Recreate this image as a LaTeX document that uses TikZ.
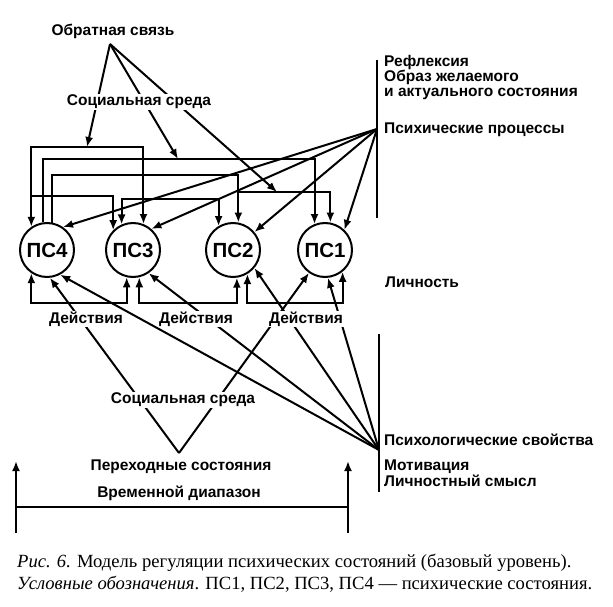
\documentclass[tikz,border=0pt]{standalone}
\usepackage{fontspec}
\setmainfont{Liberation Serif}
\newfontfamily\lab{Liberation Sans}
\usetikzlibrary{arrows.meta,calc}
\begin{document}
\begin{tikzpicture}[x=1pt,y=-1pt,
  lnw/.style={line width=2pt},
  ar/.style={lnw,-{Latex[length=10pt,width=8pt]}},
  ar2/.style={lnw,{Latex[length=10pt,width=8pt]}-{Latex[length=10pt,width=8pt]}},
  thinln/.style={line width=1.4pt},
  psnode/.style={circle,draw,line width=2pt,minimum size=54pt,inner sep=0pt,font=\lab\bfseries\fontsize{20.5}{22}\selectfont},
  lbl/.style={font=\lab\bfseries\fontsize{15.5}{15.5}\selectfont,inner sep=1pt,fill=white},
  captxt/.style={font=\fontsize{18.6}{20}\selectfont,inner sep=0pt,anchor=west},
  ]
\useasboundingbox (0,0) rectangle (613,607);

% circles
\node[psnode] (c4) at (47,250) {ПС4};
\node[psnode] (c3) at (133,250) {ПС3};
\node[psnode] (c2) at (233,250) {ПС2};
\node[psnode] (c1) at (325,250) {ПС1};

% top frames
\draw[ar2] (c4.124) |- (90,147) -| (c3.68);
\draw[ar] (c4.98) |- (200,159) -| (c1.112);
\draw[ar] (c4.79) |- (150,175) -| (c2.79);
\draw[ar] (c4.124 |- 0,196) -| (c3.135);
\draw[ar2] (c3.114) |- (170,199) -| (c2.121);
\draw[ar] (c2.79 |- 0,192) -| (c1.79);

% feedback
\coordinate (O) at (110,44);
\coordinate (fa) at (87,147);
\coordinate (fb) at (178,159);
\coordinate (fe) at (277,192);
\draw[ar] (O) -- (fa);
\draw[ar] (O) -- (fb);
\draw[ar] (O) -- (fe);

% psychic processes
\draw[thinln] (377,60) -- (377,218);
\coordinate (H1) at (377,129);
\draw[ar] (H1) -- (c4.55);
\draw[ar] (H1) -- (c3.49);
\draw[ar] (H1) -- (c2.40);
\draw[ar] (H1) -- (c1.46);

% bottom brackets (actions)
\draw[ar2] (c4.236) |- (80,303) -| (c3.257);
\draw[ar2] (c3.283) |- (190,303) -| (c2.278);
\draw[ar2] (c2.301) |- (290,303) -| (c1.309);

% transitional states V
\coordinate (V) at (179,453);
\draw[ar] (V) -- (c4.276);
\draw[ar] (V) -- (c1.235);

% psychological properties
\draw[thinln] (379,334) -- (379,492);
\coordinate (H2) at (379,450);
\draw[ar] (H2) -- (c4.298);
\draw[ar] (H2) -- (c3.304);
\draw[ar] (H2) -- (c2.320);
\draw[ar] (H2) -- (c1.276);

% time range
\draw[ar] (16,533) -- (16,461);
\draw[ar] (348,533) -- (348,461);
\draw[thinln] (16,507) -- (348,507);

% labels
\node[lbl] (tob) at (113,31) {Обратная связь};
\node[lbl] (tss1) at (139,102) {Социальная среда};
\node[lbl,anchor=west,align=left,font=\lab\bfseries\fontsize{15.5}{15}\selectfont] (trf) at (383,77) {Рефлексия\\Образ желаемого\\и актуального состояния};
\node[lbl,anchor=west] (tpp) at (383,130) {Психические процессы};
\node[lbl] (td1) at (86,319) {Действия};
\node[lbl] (td2) at (196,319) {Действия};
\node[lbl] (td3) at (306,319) {Действия};
\node[lbl,anchor=west] (tli) at (384,282) {Личность};
\node[lbl] (tss2) at (183,400) {Социальная среда};
\node[lbl,anchor=west] (tps) at (383,440) {Психологические свойства};
\node[lbl,anchor=west,align=left,font=\lab\bfseries\fontsize{15.5}{16}\selectfont] (tmo) at (383,473) {Мотивация\\Личностный смысл};
\node[lbl] (tpe) at (181,467) {Переходные состояния};
\node[lbl] (tvr) at (179,493) {Временной диапазон};

% caption
\node[captxt] (cap1) at (17,563) {\textit{Рис. 6.} Модель регуляции психических состояний (базовый уровень).};
\node[captxt] (cap2) at (17,584) {\textit{Условные обозначения}. ПС1, ПС2, ПС3, ПС4 — психические состояния.};
\end{tikzpicture}
\end{document}
